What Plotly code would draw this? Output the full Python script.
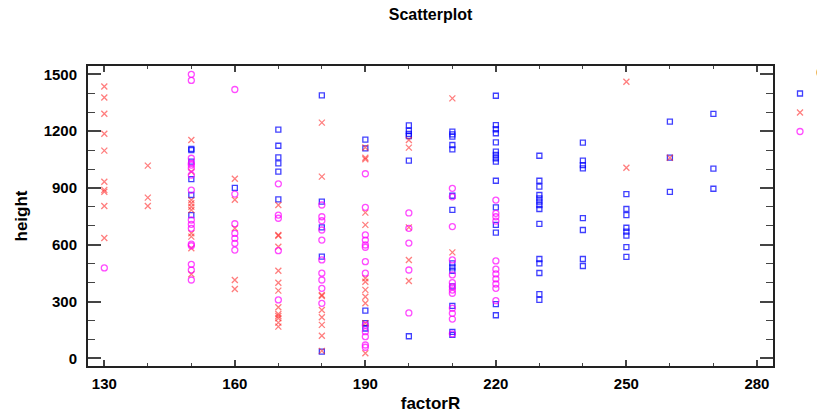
import plotly.graph_objects as go

# ---- data ----
blue_factorR = [150]*6 + [160] + [170]*6 + [180]*5 + [190]*5 + [200]*6 + [210]*14 + [220]*15 + [230]*14 + [240]*8 + [250]*8 + [260]*3 + [270]*3
blue_height = [1106, 1100, 1039, 947, 863, 757,
               901,
               1208, 1123, 1062, 1030, 986, 840,
               1389, 828, 692, 537, 36,
               1155, 1109, 252, 186, 158,
               1230, 1202, 1185, 1174, 1044, 117,
               1197, 1183, 1171, 1127, 1104, 859, 784, 502, 481, 463, 380, 277, 140, 124,
               1387, 1232, 1210, 1189, 1141, 1092, 1074, 1057, 1039, 938, 798, 705, 664, 287, 228,
               1070, 938, 907, 863, 845, 828, 810, 789, 710, 525, 502, 451, 340, 309,
               1139, 1044, 1021, 1003, 741, 678, 525, 488,
               868, 789, 757, 690, 669, 648, 588, 536,
               1250, 1060, 879,
               1291, 1002, 896]

red_factorR = [130]*10 + [140]*3 + [150]*10 + [160]*5 + [170]*13 + [180]*9 + [190]*12 + [200]*5 + [210]*2 + [250]*2 + [260]
red_height = [1436, 1378, 1292, 1186, 1097, 933, 890, 880, 805, 636,
              1018, 849, 805,
              1153, 986, 836, 819, 801, 784, 661, 643, 582, 444,
              949, 838, 687, 414, 367,
              810, 652, 648, 590, 463, 400, 358, 270, 235, 224, 212, 189, 168,
              1245, 960, 335, 330, 256, 217, 177, 120, 40,
              1114, 1052, 1060, 770, 705, 423, 405, 362, 326, 291, 186, 27,
              1153, 1113, 692, 520, 409,
              1373, 560,
              1461, 1007,
              1060]

mag_factorR = [130] + [150]*16 + [160]*7 + [170]*5 + [180]*10 + [190]*13 + [200]*5 + [210]*13 + [220]*11
mag_height = [478,
              1500, 1468, 1057, 1030, 1021, 1004, 968, 889, 731, 708, 687, 603, 595, 497, 467, 414,
              1420, 868, 711, 660, 634, 607, 572,
              922, 757, 740, 569, 309,
              810, 748, 727, 678, 625, 520, 450, 414, 370, 291,
              975, 798, 652, 625, 599, 587, 511, 450, 176, 141, 115, 71, 59,
              768, 687, 609, 467, 240,
              898, 853, 696, 520, 441, 400, 379, 361, 344, 265, 238, 208, 130,
              836, 766, 748, 725, 515, 471, 446, 420, 393, 370, 305]

series_names = ["\u00a0\u00a0\u00a0\u00a0Group 1", "\u00a0\u00a0\u00a0\u00a0Group 2", "\u00a0\u00a0\u00a0\u00a0Group 3"]
legend_title = "Color"
x_ticks = [130, 160, 190, 220, 250, 280]
y_ticks = [0, 300, 600, 900, 1200, 1500]

FONT = "Liberation Sans, Arial, sans-serif"

fig = go.Figure()
fig.add_trace(go.Scatter(x=blue_factorR, y=blue_height, mode="markers", name=series_names[0],
                         marker=dict(symbol="square-open", size=5, color="rgba(0,0,255,0.75)",
                                     line=dict(width=1.3, color="rgba(0,0,255,0.75)"))))
fig.add_trace(go.Scatter(x=red_factorR, y=red_height, mode="markers", name=series_names[1],
                         marker=dict(symbol="x-thin-open", size=6, color="rgba(255,40,40,0.6)",
                                     line=dict(width=1.3, color="rgba(255,40,40,0.6)"))))
fig.add_trace(go.Scatter(x=mag_factorR, y=mag_height, mode="markers", name=series_names[2],
                         marker=dict(symbol="circle-open", size=6, color="rgba(255,0,255,0.7)",
                                     line=dict(width=1.3, color="rgba(255,0,255,0.7)"))))

axis_common = dict(showgrid=False, zeroline=False, showline=True, linecolor="#222", linewidth=2,
                   mirror="ticks", ticks="inside", tickcolor="#444", tickwidth=1.5,
                   tickfont=dict(family=FONT, size=15, color="black", weight="bold"))

fig.update_xaxes(range=[126.25, 283.7], tickvals=x_ticks, ticklen=6, ticklabelstandoff=3,
                 minor=dict(ticks="inside", dtick=10, tick0=130, ticklen=3, tickcolor="#444", tickwidth=1.2),
                 title=dict(text="<b>factorR</b>", font=dict(family=FONT, size=17, color="black"), standoff=6),
                 **axis_common)
fig.update_yaxes(range=[-40, 1544], tickvals=y_ticks, ticklen=13, ticklabelstandoff=6,
                 minor=dict(ticks="inside", dtick=100, tick0=0, ticklen=7, tickcolor="#444", tickwidth=1.2),
                 title=dict(text="<b>height</b>", font=dict(family=FONT, size=17, color="black"), standoff=12),
                 **axis_common)

fig.update_layout(
    width=825, height=413,
    margin=dict(l=80, r=60, t=58, b=55, autoexpand=False),
    paper_bgcolor="white", plot_bgcolor="white",
    title=dict(text="<b>Scatterplot</b>", xref="paper", x=0.5, xanchor="center",
               y=1 - 6 / 413, yanchor="middle",
               font=dict(family=FONT, size=16, color="black")),
    font=dict(family=FONT),
    showlegend=True,
    legend=dict(x=(772 - 80) / 685, xanchor="left", y=1 - (71 - 58) / 300, yanchor="top",
                font=dict(family=FONT, size=12, color="black"), itemsizing="trace",
                tracegroupgap=0, bgcolor="rgba(0,0,0,0)"),
    annotations=[dict(text="<b>" + legend_title + "</b>", xref="paper", yref="paper",
                      x=(806 - 80) / 685, y=1 - (65 - 58) / 300, xanchor="left", yanchor="middle",
                      showarrow=False, font=dict(family=FONT, size=18, color="black"))],
)

fig.write_html("out.html")
